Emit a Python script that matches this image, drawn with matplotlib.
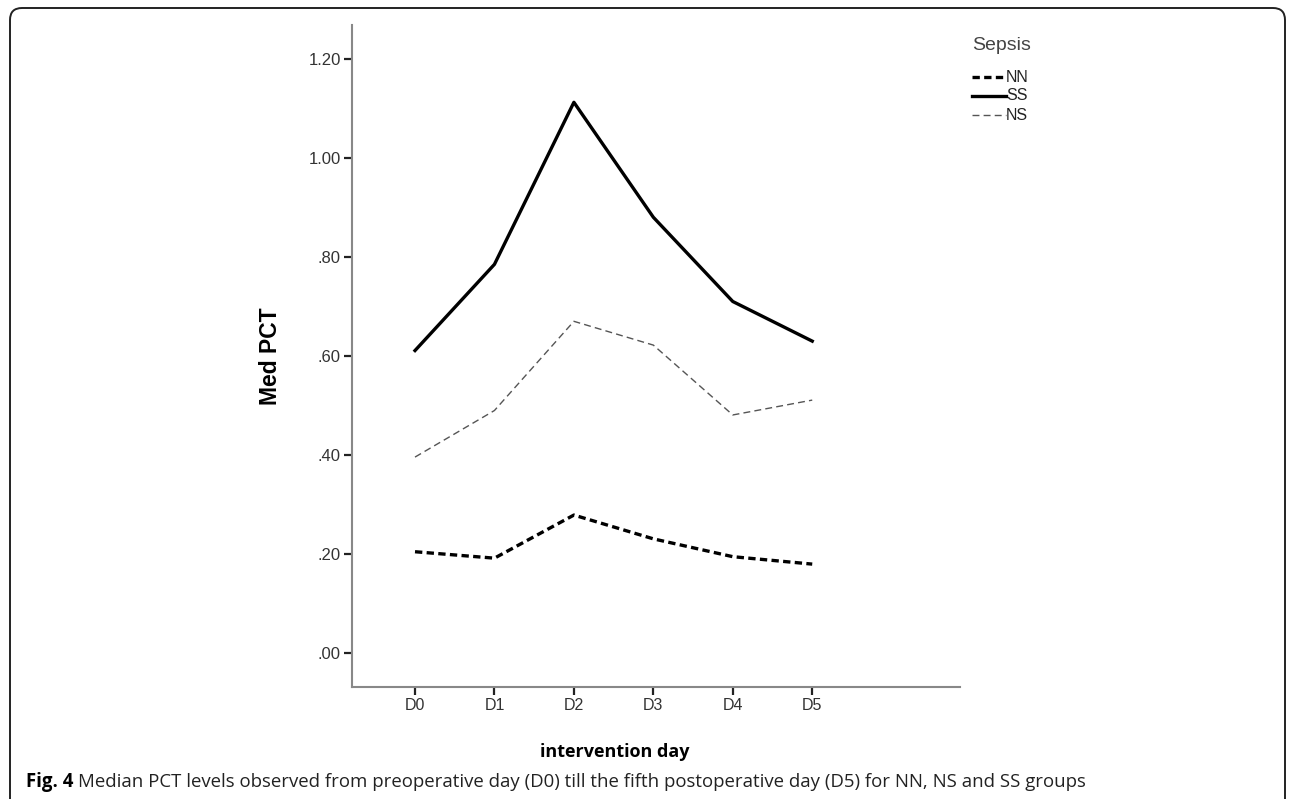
import numpy as np
import matplotlib.pyplot as plt
from matplotlib.patches import FancyBboxPatch
from matplotlib.lines import Line2D
from matplotlib.transforms import IdentityTransform

# dane (mediana PCT)
days = ['D0', 'D1', 'D2', 'D3', 'D4', 'D5']
nn = [0.205, 0.192, 0.279, 0.231, 0.195, 0.180]
ss = [0.611, 0.785, 1.112, 0.880, 0.710, 0.630]
ns = [0.396, 0.490, 0.670, 0.622, 0.481, 0.511]
groups = ['NN', 'SS', 'NS']
y_ticks = [0.0, 0.2, 0.4, 0.6, 0.8, 1.0, 1.2]
y_labels = ['.00', '.20', '.40', '.60', '.80', '1.00', '1.20']

W, H = 1290, 799
fig = plt.figure(figsize=(W / 100, H / 100), dpi=100)

# ramka zaokraglona wokol calej figury
frame = FancyBboxPatch((10, -20), 1275, H - 8 + 20,
                       boxstyle='round,pad=0,rounding_size=12',
                       transform=IdentityTransform(), fill=False,
                       edgecolor='#222222', linewidth=1.4)
fig.add_artist(frame)

ax = fig.add_axes([352 / W, 1 - 687 / H, (960 - 352) / W, (687 - 25) / H])
x = np.arange(len(days))

styles = {
    'NN': dict(color='black', linewidth=2.4, dashes=(2.2, 1.3)),
    'SS': dict(color='black', linewidth=2.4),
    'NS': dict(color='#555555', linewidth=1.0, dashes=(5, 3)),
}
series = {'NN': nn, 'SS': ss, 'NS': ns}
for g in groups:
    ax.plot(x, series[g], label=g, **styles[g])

ax.set_xlim(-0.793, 6.86)
ax.set_ylim(-0.068, 1.268)
ax.set_xticks(x)
ax.set_xticklabels(days)
ax.set_yticks(y_ticks)
ax.set_yticklabels(y_labels)

for s in ['top', 'right']:
    ax.spines[s].set_visible(False)
for s in ['left', 'bottom']:
    ax.spines[s].set_color('#888888')
    ax.spines[s].set_linewidth(1.5)
ax.tick_params(axis='both', length=6, width=1.6, color='#222222',
               labelcolor='#333333', pad=2)
ax.tick_params(axis='y', labelsize=12)
ax.tick_params(axis='x', labelsize=11.5)
for t in ax.get_xticklabels() + ax.get_yticklabels():
    t.set_fontfamily('Liberation Sans')

ax.set_ylabel('Med PCT', fontsize=16.5, fontweight='bold',
              fontfamily='Liberation Sans')
ax.yaxis.set_label_coords((282 - 352) / (960 - 352), (687 - 356) / (687 - 25))
ax.set_xlabel('intervention day', fontsize=13, fontweight='bold',
              fontfamily='Open Sans')
ax.xaxis.set_label_coords((615 - 352) / (960 - 352), -(743 - 687) / (687 - 25))

# legenda rysowana recznie
fig.text(972 / W, 1 - 46 / H, 'Sepsis', fontsize=14, fontfamily='Liberation Sans',
         color='#444444', va='center', ha='left')
for i, g in enumerate(groups):
    yy = 1 - (77 + 19 * i) / H
    fig.add_artist(Line2D([972 / W, 1006 / W], [yy, yy], transform=fig.transFigure,
                          **styles[g]))
    fig.text(1006 / W, yy, g, fontsize=11.5, fontfamily='Liberation Sans',
             color='#222222', va='center', ha='left')

fig.text(26 / W, 1 - 782 / H, 'Fig. 4', fontsize=13.4, fontweight='bold',
         fontfamily='Open Sans', va='center', ha='left')
fig.text(78 / W, 1 - 782 / H,
         'Median PCT levels observed from preoperative day (D0) till the fifth '
         'postoperative day (D5) for NN, NS and SS groups',
         fontsize=13.4, fontfamily='Open Sans', va='center', ha='left', color='#222222')

fig.savefig('out.png', dpi=100)
